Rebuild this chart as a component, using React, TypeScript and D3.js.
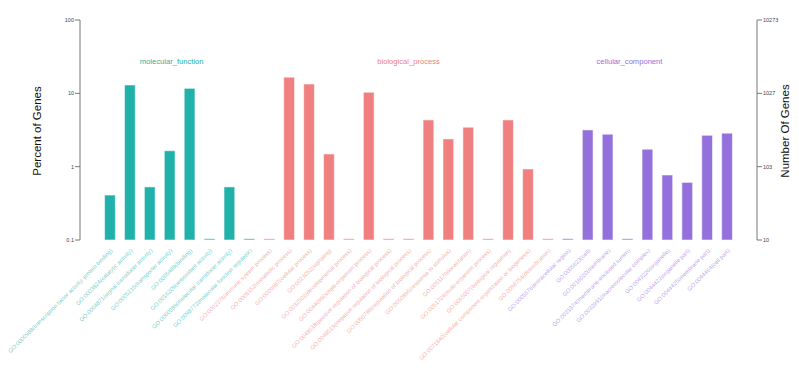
import React from "react";
import * as d3 from "d3";

const categories = [
  "GO:0000988(transcription factor activity, protein binding)",
  "GO:0003824(catalytic activity)",
  "GO:0004871(signal transducer activity)",
  "GO:0005215(transporter activity)",
  "GO:0005488(binding)",
  "GO:0016209(antioxidant activity)",
  "GO:0060089(molecular transducer activity)",
  "GO:0098772(molecular function regulator)",
  "GO:0002376(immune system process)",
  "GO:0008152(metabolic process)",
  "GO:0009987(cellular process)",
  "GO:0023052(signaling)",
  "GO:0032502(developmental process)",
  "GO:0044699(single-organism process)",
  "GO:0048518(positive regulation of biological process)",
  "GO:0048519(negative regulation of biological process)",
  "GO:0050789(regulation of biological process)",
  "GO:0050896(response to stimulus)",
  "GO:0051179(localization)",
  "GO:0051704(multi-organism process)",
  "GO:0065007(biological regulation)",
  "GO:0071840(cellular component organization or biogenesis)",
  "GO:0098754(detoxification)",
  "GO:0005576(extracellular region)",
  "GO:0005623(cell)",
  "GO:0016020(membrane)",
  "GO:0031974(membrane-enclosed lumen)",
  "GO:0032991(macromolecular complex)",
  "GO:0043226(organelle)",
  "GO:0044422(organelle part)",
  "GO:0044425(membrane part)",
  "GO:0044464(cell part)",
];

const groups = [
  "molecular_function", "molecular_function", "molecular_function", "molecular_function",
  "molecular_function", "molecular_function", "molecular_function", "molecular_function",
  "biological_process", "biological_process", "biological_process", "biological_process",
  "biological_process", "biological_process", "biological_process", "biological_process",
  "biological_process", "biological_process", "biological_process", "biological_process",
  "biological_process", "biological_process", "biological_process",
  "cellular_component", "cellular_component", "cellular_component", "cellular_component",
  "cellular_component", "cellular_component", "cellular_component", "cellular_component",
  "cellular_component",
];

const percentValues = [
  0.41, 13.0, 0.53, 1.65, 11.7, 0.104, 0.53, 0.104,
  0.104, 16.6, 13.4, 1.49, 0.104, 10.35, 0.104, 0.104, 4.34, 2.39, 3.45, 0.104, 4.34, 0.93, 0.104,
  0.104, 3.17, 2.77, 0.104, 1.73, 0.77, 0.61, 2.68, 2.86,
];

const groupNames = ["molecular_function", "biological_process", "cellular_component"];
const groupColors = ["#20B2AA", "#F08080", "#9370DB"];

const leftTicks = [0.1, 1, 10, 100];
const leftTickLabels = ["0.1", "1", "10", "100"];
const rightTickLabels = ["10", "103", "1027", "10273"];

const W = 799;
const H = 380;
const FONT = "'Liberation Sans', Arial, Helvetica, sans-serif";

export default function App() {
  const xLeft = 80;
  const xRight = 757;
  const yTop = 20;
  const yBottom = 240;

  const y = d3.scaleLog().domain([0.1, 100]).range([yBottom, yTop]);
  const x = d3
    .scaleBand<string>()
    .domain(categories)
    .range([100, 737])
    .paddingInner(0.46)
    .paddingOuter(0.23);
  const color = d3.scaleOrdinal<string, string>().domain(groupNames).range(groupColors);

  // group label positions (in category-index units along the band scale)
  const labelIndexPos = [3.1, 15.0, 26.1];
  const step = x.step();
  const firstCenter = x(categories[0])! + x.bandwidth() / 2;
  const groupLabelX = labelIndexPos.map((p) => firstCenter + p * step);

  return (
    <svg
      width={W}
      height={H}
      style={{ position: "absolute", left: 0, top: 0, background: "#fff" }}
      fontFamily={FONT}
    >
      {/* bars */}
      {categories.map((c, i) => {
        const v = percentValues[i];
        const top = y(v);
        return (
          <rect
            key={c}
            x={x(c)}
            y={top}
            width={x.bandwidth()}
            height={yBottom - top}
            fill={color(groups[i])}
            stroke="#ffffff"
            strokeOpacity={0.55}
            strokeWidth={1}
          />
        );
      })}

      {/* group labels */}
      {groupNames.map((g, i) => (
        <text
          key={g}
          x={groupLabelX[i]}
          y={64}
          textAnchor="middle"
          fontSize={7.6}
          fill={groupColors[i]}
        >
          {g}
        </text>
      ))}

      {/* axes */}
      <g stroke="#777" strokeWidth={1} fill="none">
        <line x1={xLeft} x2={xLeft} y1={yTop} y2={yBottom} />
        {leftTicks.map((t) => (
          <line key={t} x1={xLeft - 5} x2={xLeft} y1={y(t)} y2={y(t)} />
        ))}
        <line x1={xRight} x2={xRight} y1={yTop} y2={yBottom} />
        {leftTicks.map((t) => (
          <line key={"r" + t} x1={xRight} x2={xRight + 5} y1={y(t)} y2={y(t)} />
        ))}
      </g>
      {leftTicks.map((t, i) => (
        <text
          key={"lt" + t}
          x={xLeft - 6}
          y={y(t)}
          dy="0.35em"
          textAnchor="end"
          fontSize={5.5}
          fill="#444"
        >
          {leftTickLabels[i]}
        </text>
      ))}
      {leftTicks.map((t, i) => (
        <text
          key={"rt" + t}
          x={xRight + 6}
          y={y(t)}
          dy="0.35em"
          textAnchor="start"
          fontSize={5.5}
          fill="#444"
        >
          {rightTickLabels[i]}
        </text>
      ))}

      {/* axis titles */}
      <text
        transform={`translate(41,${(yTop + yBottom) / 2 + 1}) rotate(-90)`}
        textAnchor="middle"
        fontSize={11.5}
        fill="#111"
      >
        Percent of Genes
      </text>
      <text
        transform={`translate(789,${(yTop + yBottom) / 2 + 1}) rotate(-90)`}
        textAnchor="middle"
        fontSize={11.5}
        fill="#111"
      >
        Number Of Genes
      </text>

      {/* x labels */}
      {categories.map((c, i) => {
        const cx = x(c)! + x.bandwidth() / 2 + 3;
        return (
          <text
            key={"xl" + c}
            transform={`translate(${cx},${yBottom + 11}) rotate(-45)`}
            textAnchor="end"
            fontSize={5.8}
            fill={color(groups[i])}
            fillOpacity={0.65}
          >
            {c}
          </text>
        );
      })}
    </svg>
  );
}
